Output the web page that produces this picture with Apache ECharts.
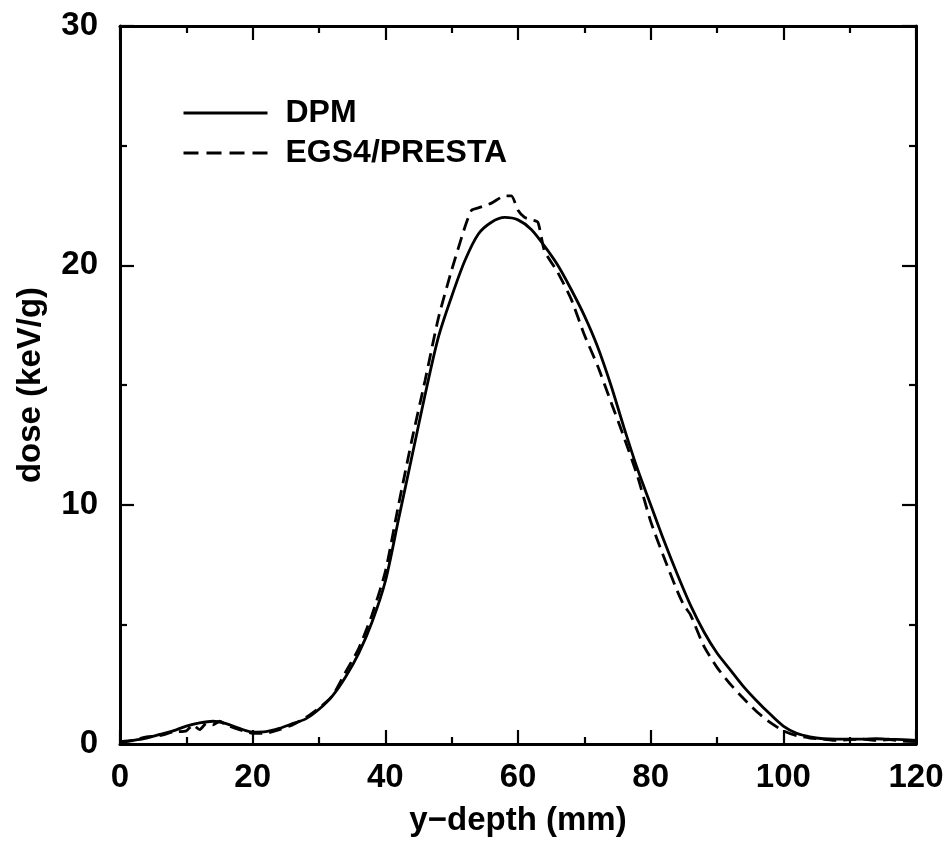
<!DOCTYPE html>
<html>
<head>
<meta charset="utf-8">
<script src="https://cdn.jsdelivr.net/npm/echarts@6/dist/echarts.min.js"></script>
<style>html,body{margin:0;padding:0;background:#fff}#c{width:952px;height:842px}</style>
</head>
<body>
<div id="c"></div>
<script>
var dpmDepth = [0,2,4,6,8,10,12,14,16,18,20,22,24,26,28,30,32,34,36,38,40,42,44,46,48,50,52,54,56,58,60,62,64,66,68,70,72,74,76,78,80,82,84,86,88,90,92,94,96,98,100,102,104,106,108,110,112,114,116,118,120];
var dpmDose = [0.05,0.15,0.25,0.4,0.55,0.75,0.88,0.95,0.85,0.65,0.5,0.52,0.65,0.85,1.05,1.45,2.0,2.8,3.8,5.1,6.8,9.4,12.0,14.6,17.0,18.7,20.2,21.3,21.8,22.0,21.9,21.5,20.8,20.0,19.0,17.9,16.6,15.0,13.2,11.5,10.0,8.5,7.1,5.8,4.7,3.8,3.1,2.4,1.8,1.25,0.75,0.45,0.3,0.22,0.2,0.2,0.2,0.22,0.2,0.18,0.15];
var egsDepth = [0,2,4,6,8,10,11,12,13,14,15,16,18,20,22,24,26,28,30,32,34,36,38,40,42,44,46,48,50,52,53,54,56,58,59,60,61,62,63,64,66,68,70,72,74,76,78,80,82,84,85,86,88,90,92,94,96,98,100,102,104,106,108,110,112,114,116,118,120];
var egsDose = [0.1,0.15,0.3,0.35,0.5,0.55,0.8,0.6,0.85,0.8,0.95,0.8,0.6,0.45,0.45,0.6,0.8,1.1,1.5,2.0,3.0,4.0,5.4,7.2,10.0,12.7,15.2,17.8,19.8,21.6,22.3,22.4,22.6,22.9,22.9,22.3,22.0,21.9,21.8,20.6,19.7,18.6,17.1,15.8,14.3,12.8,11.2,9.3,7.8,6.4,5.8,5.4,4.1,3.2,2.5,1.9,1.35,0.9,0.55,0.35,0.25,0.2,0.15,0.18,0.2,0.15,0.18,0.12,0.1];
var seriesNames = ['DPM', 'EGS4/PRESTA'];
var xTitle = 'y\u2212depth (mm)';
var yTitle = 'dose (keV/g)';

function pairs(xs, ys){ return xs.map(function(x,i){ return [x, ys[i]]; }); }

var FONT = '"Liberation Sans", Arial, sans-serif';
function axisLine(){ return {show:true, onZero:false, lineStyle:{color:'#000', width:3}}; }
function tick(){ return {show:true, inside:true, length:14, lineStyle:{color:'#000', width:2.2}}; }
function minor(){ return {show:true, splitNumber:2, length:7, lineStyle:{color:'#000', width:2.2}}; }
function lbl(m){ return {show:true, margin:m, color:'#000', fontFamily:FONT, fontWeight:'bold', fontSize:33}; }
function nameStyle(){ return {color:'#000', fontFamily:FONT, fontWeight:'bold', fontSize:33}; }

function xAx(pos, showLabel){
  var a = {type:'value', min:0, max:120, interval:20, position:pos, gridIndex:0,
    axisLine:axisLine(), axisTick:tick(), minorTick:minor(), splitLine:{show:false}, minorSplitLine:{show:false},
    axisLabel: showLabel ? lbl(17) : {show:false}};
  if (showLabel) { a.name = xTitle; a.nameLocation = 'middle'; a.nameGap = 60; a.nameTextStyle = nameStyle(); }
  return a;
}
function yAx(pos, showLabel){
  var a = {type:'value', min:0, max:30, interval:10, position:pos, gridIndex:0,
    axisLine:axisLine(), axisTick:tick(), minorTick:minor(), splitLine:{show:false}, minorSplitLine:{show:false},
    axisLabel: showLabel ? lbl(22) : {show:false}};
  if (showLabel) { a.name = yTitle; a.nameLocation = 'middle'; a.nameGap = 73; a.nameRotate = 90; a.nameTextStyle = nameStyle(); }
  return a;
}

var chart = echarts.init(document.getElementById('c'), null, {renderer:'canvas'});
chart.setOption({
  animation:false,
  backgroundColor:'#fff',
  grid:{left:120, right:36, top:26, bottom:96, containLabel:false},
  legend:{
    orient:'vertical', left:177, top:92, itemWidth:84, itemHeight:14, itemGap:8,
    itemStyle:{opacity:0},
    textStyle:{color:'#000', fontFamily:FONT, fontWeight:'bold', fontSize:32, padding:[0,0,0,13]},
    data:[
      {name:seriesNames[0], lineStyle:{width:3, type:'solid'}},
      {name:seriesNames[1], lineStyle:{width:3, type:[15,8]}}
    ]
  },
  xAxis:[ xAx('bottom', true), xAx('top', false) ],
  yAxis:[ yAx('left', true), yAx('right', false) ],
  series:[
    {name:seriesNames[0], type:'line', xAxisIndex:0, yAxisIndex:0, data:pairs(dpmDepth, dpmDose),
     showSymbol:false, symbol:'none', smooth:0.3, lineStyle:{color:'#000', width:2.8, type:'solid'}, itemStyle:{color:'#000'}},
    {name:seriesNames[1], type:'line', xAxisIndex:0, yAxisIndex:0, data:pairs(egsDepth, egsDose),
     showSymbol:false, symbol:'none', smooth:0.2, lineStyle:{color:'#000', width:2.8, type:[13,7]}, itemStyle:{color:'#000'}},
    {type:'line', xAxisIndex:1, yAxisIndex:1, data:[], silent:true}
  ]
});
</script>
</body>
</html>
